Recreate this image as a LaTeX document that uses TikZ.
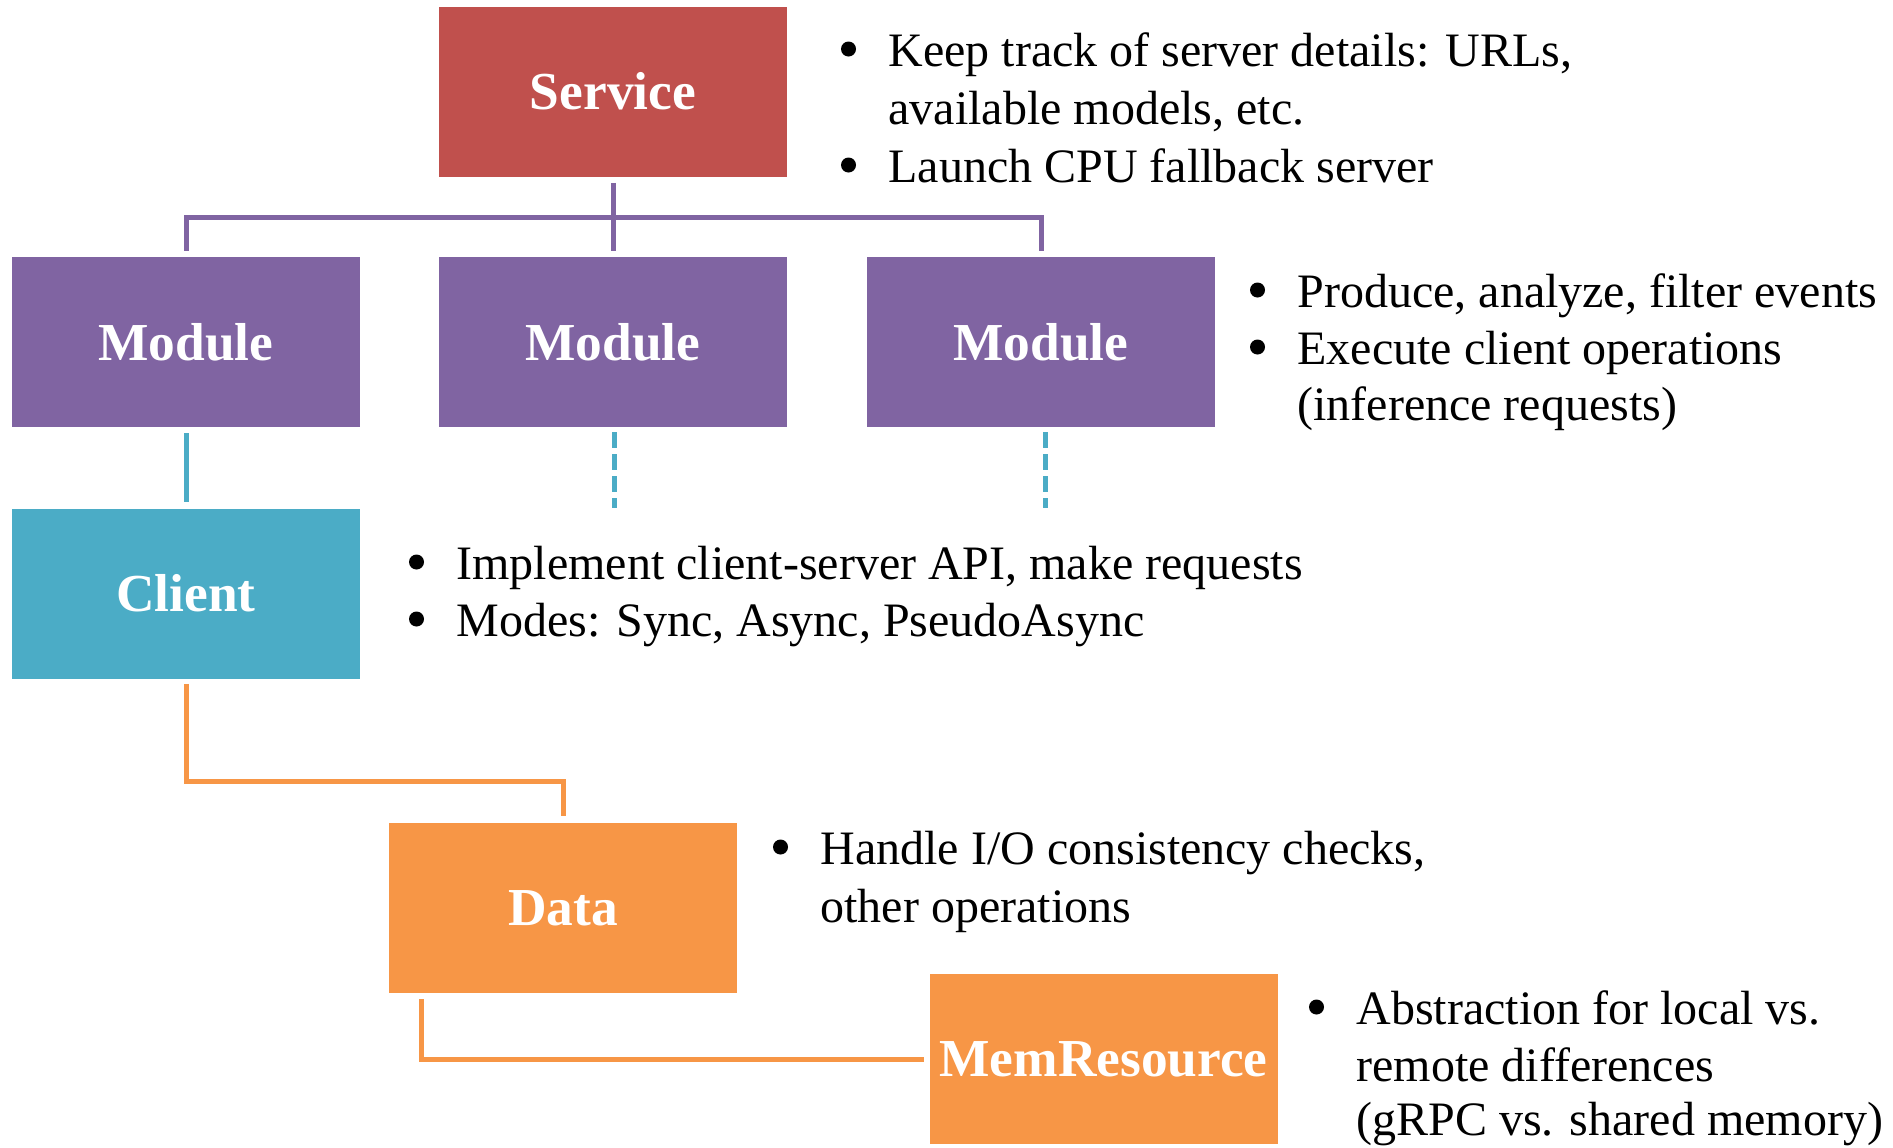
\documentclass[tikz,border=0pt]{standalone}
\usepackage{fontspec}
\setmainfont{Liberation Serif}
\definecolor{svcred}{HTML}{C0504D}
\definecolor{modpurple}{HTML}{8064A2}
\definecolor{clicyan}{HTML}{4BACC6}
\definecolor{datorange}{HTML}{F79646}
\usetikzlibrary{calc}
\tikzset{
  box/.style={rectangle, inner sep=0pt, minimum width=174pt, minimum height=85pt,
    text=white, font=\bfseries\fontsize{26.7pt}{32pt}\selectfont},
  txt/.style={anchor=base west, inner sep=0pt, font=\fontsize{24pt}{28.75pt}\selectfont},
  conn/.style={line width=2.5pt},
  pline/.style={conn, draw=modpurple},
  cline/.style={conn, draw=clicyan},
  oline/.style={conn, draw=datorange},
  dline/.style={cline, dash pattern=on 8pt off 3pt}
}
\begin{document}
\begin{tikzpicture}[x=0.5pt, y=-0.5pt]
\useasboundingbox[fill=white] (0,0) rectangle (1893,1147);

% boxes
\node[box, fill=svcred]     (svc)  at (613,91.5)   {Service};
\node[box, fill=modpurple]  (mod1) at (186,342)    {Module};
\node[box, fill=modpurple]  (mod2) at (613,342)    {Module};
\node[box, fill=modpurple]  (mod3) at (1041,342)   {Module};
\node[box, fill=clicyan]    (cli)  at (186,593.5)  {Client};
\node[box, fill=datorange]  (dat)  at (563,908)    {Data};
\node[box, fill=datorange]  (mem)  at (1103.5,1059) {MemResource};

% service to modules
\coordinate (bus) at (613,217);
\draw[pline] ([yshift=-3pt]svc.south) -- (bus);
\draw[pline] ([yshift=3pt]mod1.north) -- (mod1.north |- bus) -- (mod3.north |- bus) -- ([yshift=3pt]mod3.north);
\draw[pline] (bus) -- ([yshift=3pt]mod2.north);

% modules to client
\coordinate (d2) at (614,508);
\coordinate (d3) at (1045,508);
\draw[cline] ([yshift=-3pt]mod1.south) -- ([yshift=3pt]cli.north);
\draw[dline] ($(d2 |- mod2.south)+(0,5)$) -- (d2);
\draw[dline] ($(d3 |- mod3.south)+(0,5)$) -- (d3);

% client to data to memresource
\draw[oline] ([yshift=-2.5pt]cli.south) |- ($(dat.north)+(0,-41)$) -- ([yshift=3.5pt]dat.north);
\draw[oline] ([xshift=16.5pt,yshift=-3pt]dat.south west) |- ([xshift=-2.5pt]mem.west);

% descriptions
\node[txt] (s1) at (888,66)  {Keep track of server details: URLs,};
\node[txt] (s2) at (888,124) {available models, etc.};
\node[txt] (s3) at (888,182) {Launch CPU fallback server};

\node[txt] (m1) at (1297,307) {Produce, analyze, filter events};
\node[txt] (m2) at (1297,364) {Execute client operations};
\node[txt] (m3) at (1297,420) {(inference requests)};

\node[txt] (c1) at (456,579) {Implement client-server API, make requests};
\node[txt] (c2) at (456,636) {Modes: Sync, Async, PseudoAsync};

\node[txt] (t1) at (820,864) {Handle I/O consistency checks,};
\node[txt] (t2) at (820,922) {other operations};

\node[txt] (r1) at (1356,1024) {Abstraction for local vs.};
\node[txt] (r2) at (1356,1081) {remote differences};
\node[txt] (r3) at (1356,1135) {(gRPC vs. shared memory)};

% bullets in front of each item
\foreach \n in {s1,s3,m1,m2,c1,c2,t1,r1}
  \fill ([xshift=-19.75pt,yshift=8.5pt]\n.base west) circle (3.75pt);
\end{tikzpicture}
\end{document}
